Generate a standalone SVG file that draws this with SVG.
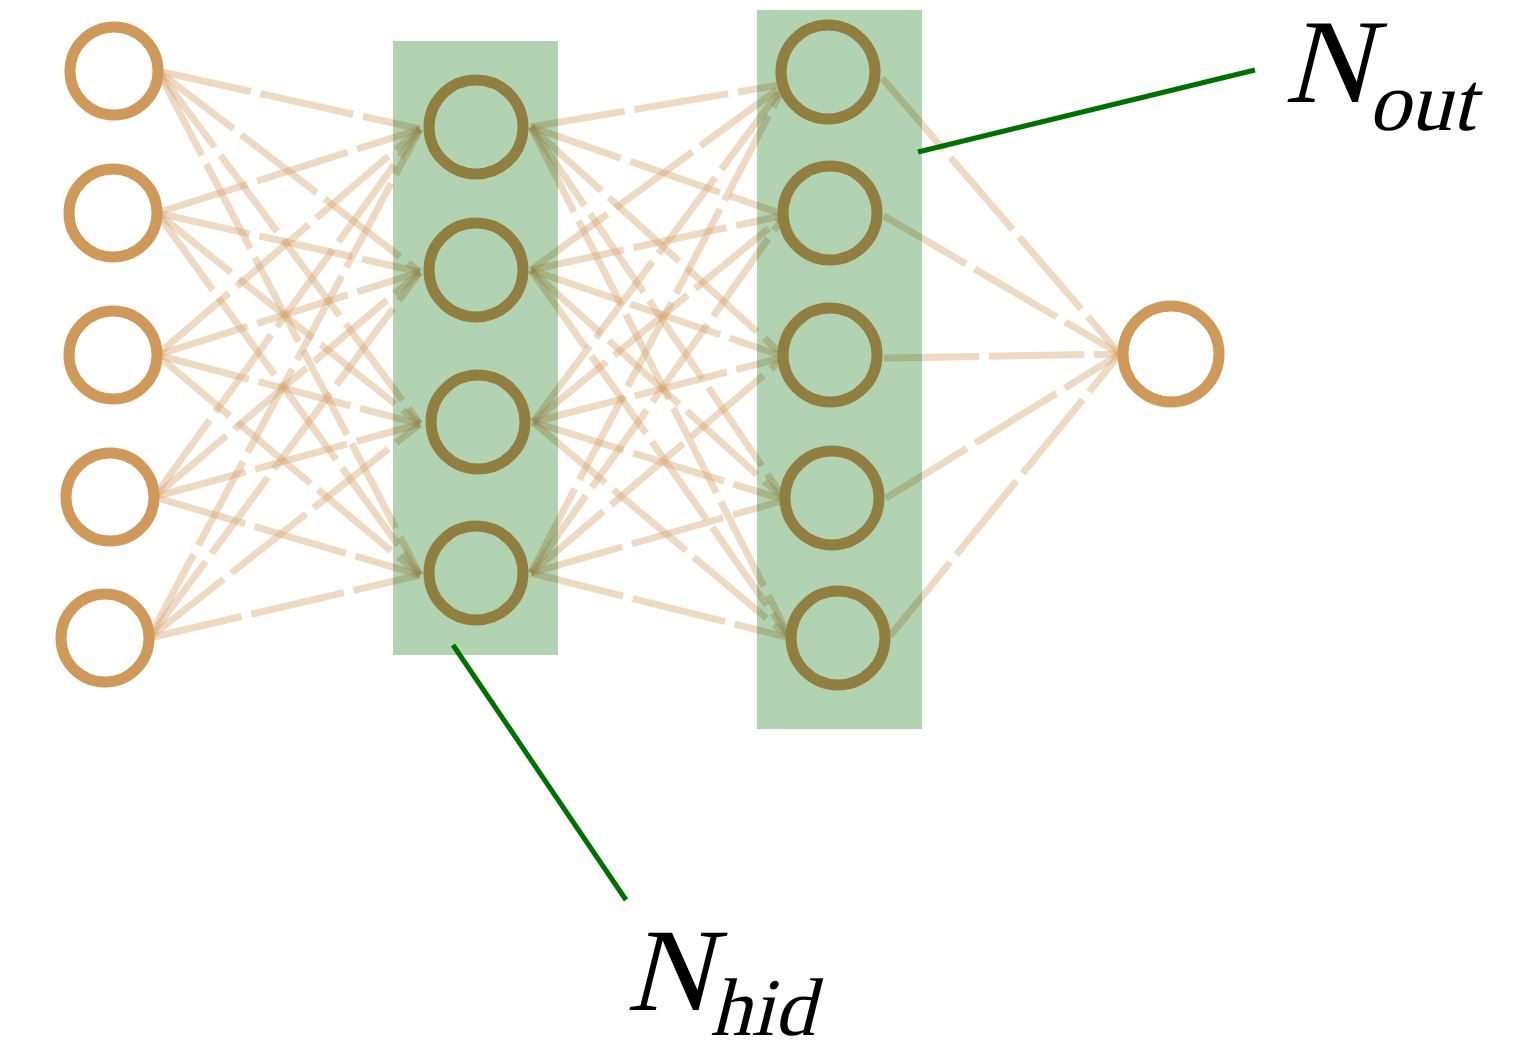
<svg xmlns="http://www.w3.org/2000/svg" width="1536" height="1044" viewBox="0 0 1536 1044">
<style>
.node{fill:none;stroke:#cf995a;stroke-width:11}
.conn line{stroke:#d4a36a;stroke-opacity:0.4;stroke-width:7;stroke-dasharray:95 10}
.layer{fill:#b2d3b2;mix-blend-mode:multiply}
.lead{stroke:#007000;stroke-width:5}
.lbl{font-family:"Liberation Serif","Times New Roman",serif;fill:#000}
</style>
<rect width="1536" height="1044" fill="#fff"/>
<g id="connectors" class="conn">
<line x1="158" y1="71" x2="420" y2="129"/><line x1="158" y1="71" x2="420" y2="272"/><line x1="158" y1="71" x2="420" y2="424"/><line x1="158" y1="71" x2="420" y2="575"/>
<line x1="157" y1="213" x2="420" y2="129"/><line x1="157" y1="213" x2="420" y2="272"/><line x1="157" y1="213" x2="420" y2="424"/><line x1="157" y1="213" x2="420" y2="575"/>
<line x1="157" y1="355" x2="420" y2="129"/><line x1="157" y1="355" x2="420" y2="272"/><line x1="157" y1="355" x2="420" y2="424"/><line x1="157" y1="355" x2="420" y2="575"/>
<line x1="154" y1="497" x2="420" y2="129"/><line x1="154" y1="497" x2="420" y2="272"/><line x1="154" y1="497" x2="420" y2="424"/><line x1="154" y1="497" x2="420" y2="575"/>
<line x1="149" y1="638" x2="420" y2="129"/><line x1="149" y1="638" x2="420" y2="272"/><line x1="149" y1="638" x2="420" y2="424"/><line x1="149" y1="638" x2="420" y2="575"/>
<line x1="531" y1="127" x2="785" y2="84"/><line x1="531" y1="127" x2="785" y2="215"/><line x1="531" y1="127" x2="785" y2="357"/><line x1="531" y1="127" x2="785" y2="500"/><line x1="531" y1="127" x2="790" y2="638"/>
<line x1="531" y1="270" x2="785" y2="84"/><line x1="531" y1="270" x2="785" y2="215"/><line x1="531" y1="270" x2="785" y2="357"/><line x1="531" y1="270" x2="785" y2="500"/><line x1="531" y1="270" x2="790" y2="638"/>
<line x1="533" y1="422" x2="785" y2="84"/><line x1="533" y1="422" x2="785" y2="215"/><line x1="533" y1="422" x2="785" y2="357"/><line x1="533" y1="422" x2="785" y2="500"/><line x1="533" y1="422" x2="790" y2="638"/>
<line x1="531" y1="573" x2="785" y2="84"/><line x1="531" y1="573" x2="785" y2="215"/><line x1="531" y1="573" x2="785" y2="357"/><line x1="531" y1="573" x2="785" y2="500"/><line x1="531" y1="573" x2="790" y2="638"/>
<line x1="882" y1="78" x2="1120" y2="354"/><line x1="884" y1="216" x2="1120" y2="354"/><line x1="884" y1="358" x2="1120" y2="354"/><line x1="886" y1="498" x2="1120" y2="354"/><line x1="890" y1="636" x2="1120" y2="354"/>
</g>
<g id="input-layer">
<circle id="in1" class="node" cx="114" cy="71" r="44"/>
<circle id="in2" class="node" cx="113" cy="213" r="44"/>
<circle id="in3" class="node" cx="113" cy="355" r="44"/>
<circle id="in4" class="node" cx="110" cy="497" r="44"/>
<circle id="in5" class="node" cx="105" cy="638" r="44"/>
</g>
<g id="hidden1">
<circle id="h1a" class="node" cx="476" cy="127" r="47"/>
<circle id="h1b" class="node" cx="476" cy="270" r="47"/>
<circle id="h1c" class="node" cx="478" cy="422" r="47"/>
<circle id="h1d" class="node" cx="476" cy="573" r="47"/>
</g>
<g id="hidden2">
<circle id="h2a" class="node" cx="828" cy="72" r="47"/>
<circle id="h2b" class="node" cx="830" cy="213" r="47"/>
<circle id="h2c" class="node" cx="830" cy="355" r="47"/>
<circle id="h2d" class="node" cx="832" cy="498" r="47"/>
<circle id="h2e" class="node" cx="838" cy="638" r="47"/>
</g>
<g id="output">
<circle id="out1" class="node" cx="1171" cy="354" r="48"/>
</g>
<g id="hid-box"><rect class="layer" x="393" y="41" width="165" height="614"/></g>
<g id="out-box"><rect class="layer" x="757" y="10" width="165" height="719"/></g>
<g id="label-out">
<line class="lead" x1="918" y1="152" x2="1255" y2="70"/>
<text class="lbl" transform="translate(1284 102) skewX(-14)" font-size="120">N<tspan font-size="84" dx="4" dy="28">out</tspan></text>
</g>
<g id="label-hid">
<line class="lead" x1="453" y1="645" x2="626" y2="900"/>
<text class="lbl" transform="translate(626 1010) skewX(-14)" font-size="118">N<tspan font-size="82" dx="5" dy="25">hid</tspan></text>
</g>
</svg>
